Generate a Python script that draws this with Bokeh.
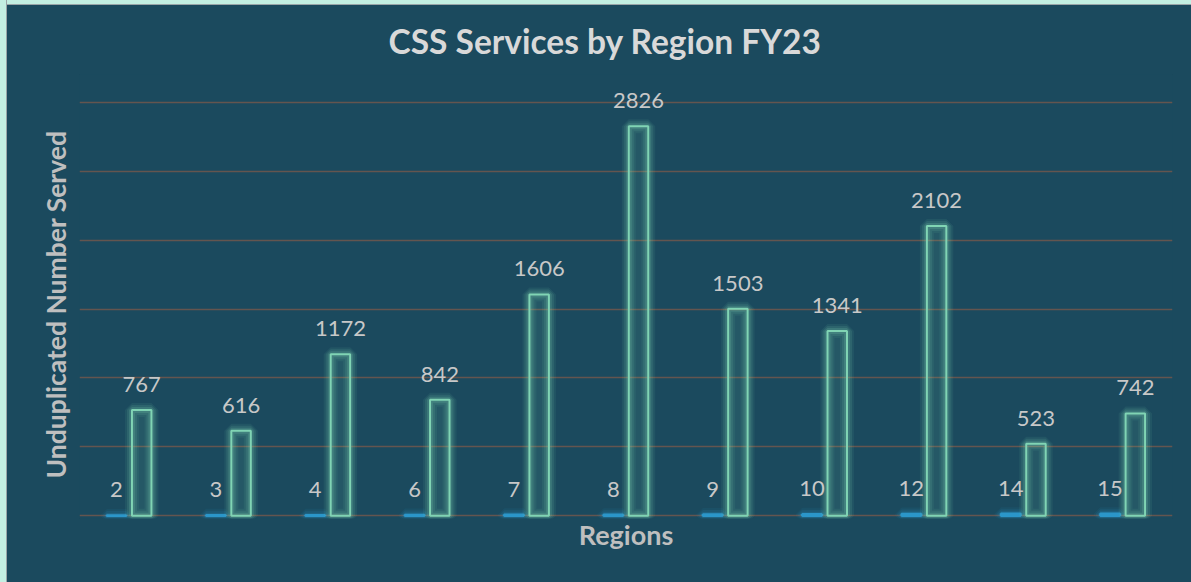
from bokeh.plotting import figure
from bokeh.models import ColumnDataSource, FactorRange, Range1d, FixedTicker, LabelSet, Title
from bokeh.transform import dodge
from bokeh.core.properties import value
from bokeh.embed import file_html
from bokeh.resources import INLINE

regions = ["2", "3", "4", "6", "7", "8", "9", "10", "12", "14", "15"]
region_values = [2, 3, 4, 6, 7, 8, 9, 10, 12, 14, 15]
served = [767, 616, 1172, 842, 1606, 2826, 1503, 1341, 2102, 523, 742]
y_ticks = [0, 500, 1000, 1500, 2000, 2500, 3000]

PANEL = "#1b4a5e"
MINT = "#80d4b4"
BLUE = "#2b96c9"
TXT = "#c8c8c8"
FONT = "Lato"

src = ColumnDataSource(dict(
    region=regions,
    rv=region_values,
    rv_txt=[str(v) for v in region_values],
    served=served,
    served_txt=[str(v) for v in served],
))

p = figure(width=1184, height=577, output_backend="svg", toolbar_location=None,
           x_range=FactorRange(*regions), y_range=Range1d(-20, 3202),
           min_border_left=72, min_border_right=19, min_border_top=69, min_border_bottom=64,
           title="CSS Services by Region FY23")

p.background_fill_color = PANEL
p.border_fill_color = PANEL
p.outline_line_color = None

p.title.align = "left"
p.title.offset = 309
p.title.standoff = 27
p.title.text_font = FONT
p.title.text_font_size = "33.5px"
p.title.text_font_style = "bold"
p.title.text_color = "#d9d9d9"

xb = dodge("region", -0.128, range=p.x_range)
xg = dodge("region", 0.126, range=p.x_range)
W = 0.196

p.xgrid.grid_line_color = None
p.ygrid.ticker = FixedTicker(ticks=y_ticks)
p.ygrid.grid_line_color = "#64554f"
p.ygrid.grid_line_width = 1.5

# blue series (region number) with glow
for lw, a in [(13, 0.08), (9, 0.13), (5, 0.2)]:
    p.vbar(x=xb, top="rv", width=W, bottom=0, source=src, fill_alpha=0,
           line_color=BLUE, line_alpha=a, line_width=lw)
p.vbar(x=xb, top="rv", width=W, bottom=0, source=src, fill_color=BLUE,
       line_color=BLUE, line_width=2.5)

# green series (served) with glow
for lw, a in [(14, 0.08), (10, 0.12), (6, 0.18)]:
    p.vbar(x=xg, top="served", width=W, bottom=0, source=src, fill_alpha=0,
           line_color=MINT, line_alpha=a, line_width=lw)
p.vbar(x=xg, top="served", width=W, bottom=0, source=src, fill_color=MINT,
       fill_alpha=0.10, line_color=MINT, line_width=2)

lb = LabelSet(x=xb, y="rv", text="rv_txt", source=src, text_align="center",
              text_baseline="alphabetic", y_offset=18, text_font=value(FONT),
              text_font_size=value("22px"), text_color=TXT)
lg = LabelSet(x=xg, y="served", text="served_txt", source=src, text_align="center",
              text_baseline="alphabetic", y_offset=18, text_font=value(FONT),
              text_font_size=value("22px"), text_color=TXT)
p.add_layout(lb)
p.add_layout(lg)

p.xaxis.ticker = FixedTicker(ticks=[])
p.xaxis.major_label_text_font_size = "0px"
p.xaxis.major_label_standoff = 0
p.xaxis.major_tick_line_color = None
p.xaxis.minor_tick_line_color = None
p.xaxis.axis_line_color = None
p.xaxis.axis_label = "Regions"
p.xaxis.axis_label_text_font = FONT
p.xaxis.axis_label_text_font_style = "bold"
p.xaxis.axis_label_text_color = "#bfbfbf"
p.xaxis.axis_label_text_font_size = "27px"
p.xaxis.axis_label_standoff = -1

# y axis title drawn as a left-side title so it can sit where the reference has it
p.yaxis.visible = False
ytitle = Title(text="Unduplicated Number Served", align="left", offset=40,
               vertical_align="bottom", standoff=15, text_font=FONT,
               text_font_size="26.5px", text_font_style="bold", text_color="#bfbfbf")
p.add_layout(ytitle, "left")

html = file_html(p, INLINE)
style = ("<style>html{background:"
         "linear-gradient(to right,#c3efe2 0,#c3efe2 6px,#9aa5a8 6px,#9aa5a8 7px,transparent 7px),"
         "linear-gradient(to bottom,#c3efe2 0,#c3efe2 4px,#9aa5a8 4px,#9aa5a8 5px," + PANEL + " 5px) !important;}"
         "body{padding:5px 0 0 7px !important;box-sizing:border-box !important;overflow:hidden !important;}"
         "</style>")
html = html.replace("</head>", style + "</head>", 1)
open("out.html", "w").write(html)
